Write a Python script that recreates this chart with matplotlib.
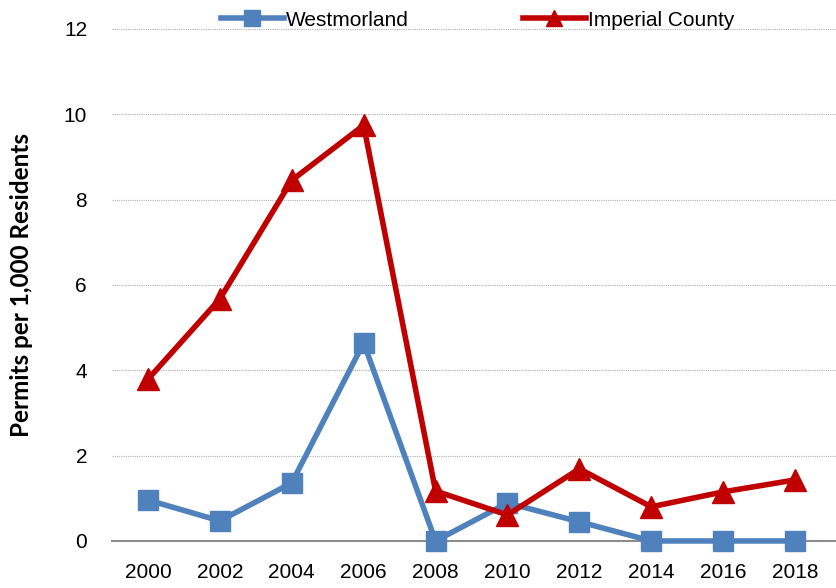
import numpy as np
import matplotlib
matplotlib.use("Agg")
import matplotlib.pyplot as plt

years = ["2000", "2002", "2004", "2006", "2008", "2010", "2012", "2014", "2016", "2018"]
westmorland = [0.96, 0.47, 1.36, 4.64, 0.0, 0.89, 0.45, 0.0, 0.0, 0.0]
imperial = [3.79, 5.67, 8.45, 9.74, 1.17, 0.61, 1.69, 0.80, 1.15, 1.43]

font = "Liberation Sans"

fig = plt.figure(figsize=(8.36, 5.88), dpi=100)
ax = fig.add_axes([0.134, 0.080, 0.866, 0.871])

x = np.arange(len(years))
ax.plot(x, westmorland, color="#4F81BD", lw=4, marker="s", ms=15,
        label="Westmorland", clip_on=False, zorder=3)
ax.plot(x, imperial, color="#C00000", lw=4, marker="^", ms=16,
        label="Imperial County", clip_on=False, zorder=4)

ax.set_xlim(-0.5, 9.57)
ax.set_ylim(0, 12)
ax.set_yticks(range(0, 13, 2))
ax.set_xticks(x)
ax.set_xticklabels(years)
ax.yaxis.grid(True, color="#B0B0B0", ls=(0, (1, 1)), lw=0.8)
ax.set_axisbelow(True)
for s in ["top", "right", "left"]:
    ax.spines[s].set_visible(False)
ax.spines["bottom"].set_color("#8C8C8C")
ax.spines["bottom"].set_linewidth(1.5)
ax.tick_params(length=0, labelsize=15)
ax.tick_params(axis="x", pad=16)
ax.tick_params(axis="y", pad=18)
for lab in ax.get_xticklabels() + ax.get_yticklabels():
    lab.set_family(font)

ax.set_ylabel("Permits per 1,000 Residents", fontsize=17.5, fontweight="bold",
              family="Lato", labelpad=22)

leg = ax.legend(loc="lower center", bbox_to_anchor=(0.505, 0.982), ncol=2,
                frameon=False, handlelength=3, columnspacing=5.5,
                handletextpad=0.1, borderaxespad=0,
                prop={"family": font, "size": 15})
for h in leg.legend_handles:
    h.set_markersize(12)

fig.savefig("out.png", dpi=100)
